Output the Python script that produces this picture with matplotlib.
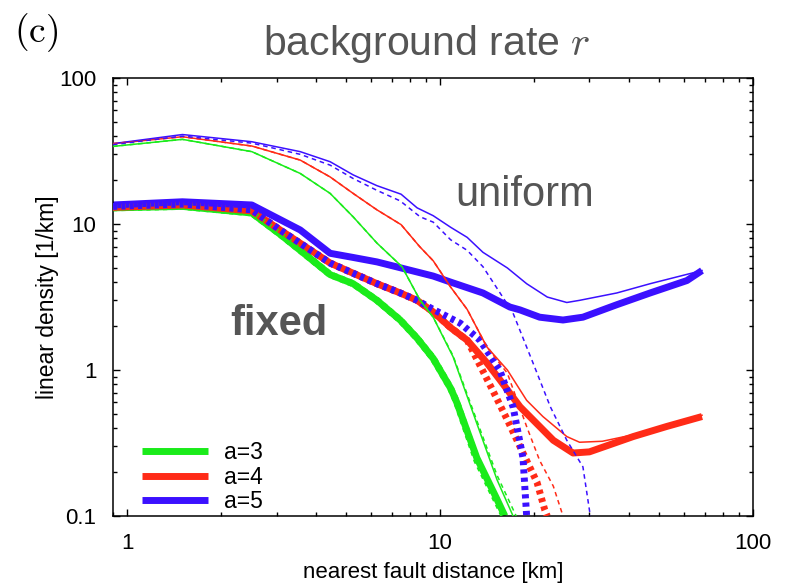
import matplotlib
matplotlib.use("Agg")
import matplotlib.pyplot as plt
from matplotlib.ticker import LogLocator, NullFormatter

plt.rcParams['font.family'] = ['Liberation Sans', 'DejaVu Sans']

# ---------------- data ----------------
labels = ["a=3", "a=4", "a=5"]
colors = ["#1aeb1a", "#ff2b17", "#3b10ff"]

# uniform (thin solid)
uni3_x = [0.9, 1.5, 2.5, 3.57, 4.45, 5.27, 6.28, 7.55, 8.63, 9.5, 11.0, 13.1, 15.2, 17.1]
uni3_y = [34, 38, 31.3, 22.2, 16.2, 11.2, 7.4, 5.1, 3.0, 2.3, 1.23, 0.43, 0.177, 0.1]
uni4_x = [0.9, 1.5, 2.5, 3.57, 4.45, 5.27, 6.28, 7.5, 8.6, 9.5, 10.8, 12.2, 14.1, 16.4, 18.9,
          21.3, 25.4, 27.9, 33, 41.4, 52.9, 68.7]
uni4_y = [35.5, 39.6, 34.2, 27.4, 21, 16.2, 12.5, 9.9, 7.0, 5.6, 3.7, 2.6, 1.44, 1.0, 0.62,
          0.48, 0.35, 0.32, 0.325, 0.36, 0.41, 0.49]
uni5_x = [0.9, 1.5, 2.5, 3.57, 4.45, 5.27, 6.28, 7.5, 8.44, 9.5, 10.8, 12.2, 13.7, 16.4, 18.9,
          22, 25.4, 27.9, 36.7, 46.9, 68.7]
uni5_y = [35.5, 41, 36.6, 31.3, 26.7, 21.7, 18.3, 16, 12.9, 11.4, 9.5, 8.1, 6.4, 5.0, 3.9,
          3.16, 2.9, 3.0, 3.37, 3.9, 4.8]

# uniform variant (thin dashed)
unid3_x = [0.9, 1.5, 2.5, 3.57, 4.45, 5.27, 6.28, 7.55, 8.63, 9.5, 11.0, 13.1, 15.2, 17.5]
unid3_y = [34, 38, 31.3, 22.2, 16.2, 11.2, 7.4, 5.1, 3.0, 2.3, 1.25, 0.45, 0.19, 0.1]
unid4_x = [0.9, 1.5, 2.5, 3.57, 4.45, 5.27, 6.28, 7.5, 8.6, 9.5, 10.8, 12.2, 14.1, 16.4, 18.9,
           20.8, 23, 24.7]
unid4_y = [35.5, 39.6, 34.2, 27.4, 21, 16.2, 12.5, 9.9, 7.0, 5.6, 3.7, 2.6, 1.44, 0.95, 0.41,
           0.24, 0.16, 0.1]
unid5_x = [0.9, 1.5, 2.5, 3.57, 4.45, 5.27, 6.28, 7.45, 8.63, 9.5, 10.8, 12.2, 13.7, 15.5, 17.1,
           19.8, 22.5, 25.4, 28.6, 30.2]
unid5_y = [35.0, 40.0, 35.8, 30.0, 25.3, 20.5, 17.0, 14.4, 11.2, 10.3, 7.8, 6.6, 5.1, 3.4, 2.45,
           1.12, 0.56, 0.33, 0.217, 0.1]

# fixed (thick solid)
fix3_x = [0.9, 1.5, 2.5, 3.08, 3.57, 4.45, 5.27, 6.28, 7.45, 8.44, 9.5, 10.8, 11.3, 13.1, 15.2, 16.1]
fix3_y = [12.9, 13.2, 11.9, 8.5, 6.6, 4.5, 3.9, 3.0, 2.2, 1.65, 1.2, 0.75, 0.6, 0.25, 0.13, 0.1]
fix4_x = [0.9, 1.5, 2.5, 3.08, 4.45, 5.27, 6.28, 7.45, 8.44, 9.5, 10.8, 12.2, 14.1, 15.5, 18.0,
          20.8, 23, 26.6, 30, 41.4, 52.9, 68.7]
fix4_y = [13.0, 13.5, 12.3, 9.1, 5.4, 4.6, 3.9, 3.37, 3.0, 2.5, 1.95, 1.6, 1.12, 0.86, 0.56,
          0.41, 0.33, 0.27, 0.275, 0.35, 0.41, 0.48]
fix5_x = [0.9, 1.5, 2.5, 3.57, 4.45, 5.27, 6.28, 7.5, 9.5, 10.8, 13.7, 16.7, 18, 20.8, 24.7,
          28.6, 36.7, 46.9, 61.5, 68.7]
fix5_y = [13.5, 14.2, 13.5, 9.1, 6.3, 5.9, 5.5, 5.0, 4.4, 4.0, 3.37, 2.7, 2.58, 2.3, 2.2,
          2.3, 2.8, 3.37, 4.1, 4.8]

# fixed variant (thick dotted)
fixd3_x = [0.9, 1.5, 2.5, 3.08, 3.57, 4.45, 5.27, 6.28, 7.45, 8.44, 9.5, 10.8, 11.3, 13.1, 15.2, 16.0]
fixd3_y = [12.9, 13.2, 11.9, 8.5, 6.6, 4.5, 3.9, 3.0, 2.2, 1.65, 1.2, 0.75, 0.6, 0.24, 0.125, 0.1]
fixd4_x = [0.9, 1.5, 2.5, 3.08, 4.45, 5.27, 6.28, 7.45, 8.44, 9.5, 10.8, 12.2, 14.7, 16.4,
           18.4, 20.4, 21.6, 22.0]
fixd4_y = [13.0, 13.5, 12.3, 9.1, 5.4, 4.6, 3.9, 3.37, 3.0, 2.5, 1.95, 1.6, 0.73, 0.455,
           0.27, 0.17, 0.11, 0.1]
fixd5_x = [0.9, 1.5, 2.5, 3.08, 4.45, 5.27, 6.28, 7.45, 8.44, 9.5, 11.6, 13.4, 15.5, 17.1,
           18.4, 18.9]
fixd5_y = [13.2, 13.7, 12.5, 9.1, 5.4, 4.6, 3.9, 3.37, 3.0, 2.6, 2.09, 1.6, 1.0, 0.56,
           0.25, 0.1]

x_ticks = [1, 10, 100]
x_ticklabels = ["1", "10", "100"]
y_ticks = [0.1, 1, 10, 100]
y_ticklabels = ["0.1", "1", "10", "100"]

# ---------------- figure ----------------
fig = plt.figure(figsize=(7.88, 5.88), dpi=100)
ax = fig.add_axes([113 / 788, 1 - 516 / 588, 640 / 788, 438 / 588])
ax.set_xscale("log")
ax.set_yscale("log")
ax.set_xlim(0.9, 100)
ax.set_ylim(0.1, 100)

THICK = 5.0
THIN = 1.1

fixed = [(fix3_x, fix3_y), (fix4_x, fix4_y), (fix5_x, fix5_y)]
fixed_d = [(fixd3_x, fixd3_y), (fixd4_x, fixd4_y), (fixd5_x, fixd5_y)]
uni = [(uni3_x, uni3_y), (uni4_x, uni4_y), (uni5_x, uni5_y)]
uni_d = [(unid3_x, unid3_y), (unid4_x, unid4_y), (unid5_x, unid5_y)]

for (x, y), c, lab in zip(fixed, colors, labels):
    ax.plot(x, y, color=c, lw=THICK, solid_capstyle="butt", label=lab, zorder=2)
for (x, y), c in zip(fixed_d, colors):
    ax.plot(x, y, color=c, lw=THICK, dashes=(0.6, 0.6), dash_capstyle="butt", zorder=3)
for (x, y), c in zip(uni, colors):
    ax.plot(x, y, color=c, lw=THIN, zorder=4)
for (x, y), c in zip(uni_d, colors):
    ax.plot(x, y, color=c, lw=THIN, dashes=(3, 2.5), zorder=4)

ax.set_xticks(x_ticks)
ax.set_xticklabels(x_ticklabels)
ax.set_yticks(y_ticks)
ax.set_yticklabels(y_ticklabels)
ax.xaxis.set_minor_locator(LogLocator(base=10, subs=range(2, 10)))
ax.yaxis.set_minor_locator(LogLocator(base=10, subs=range(2, 10)))
ax.xaxis.set_minor_formatter(NullFormatter())
ax.yaxis.set_minor_formatter(NullFormatter())
ax.tick_params(which="both", direction="in", top=True, right=True, labelsize=16, width=1.0)
ax.tick_params(which="major", length=5, pad=12)
ax.tick_params(which="minor", length=3)
for s in ax.spines.values():
    s.set_linewidth(1.1)

ax.set_xlabel("nearest fault distance [km]", fontsize=16, labelpad=6)
ax.set_ylabel("linear density [1/km]", fontsize=16.5, labelpad=0)

leg = ax.legend(loc="lower left", bbox_to_anchor=(0.045, 0.006), frameon=False, fontsize=16.5,
                handlelength=2.9, handletextpad=0.7, labelspacing=0.08, borderpad=0,
                borderaxespad=0)

fig.text(263 / 788, 1 - 55 / 588, r"background rate $r$", fontsize=29.5, color="#555555",
         ha="left", va="baseline", math_fontfamily="cm")
fig.text(14 / 788, 1 - 11 / 588, r"$(\mathrm{c})$", fontsize=27, color="black",
         ha="left", va="top", math_fontfamily="cm")
fig.text(455 / 788, 1 - 206 / 588, "uniform", fontsize=30, color="#555555",
         ha="left", va="baseline")
fig.text(230 / 788, 1 - 335 / 588, "fixed", fontsize=30, color="#555555", fontweight="bold",
         ha="left", va="baseline")

fig.savefig("out.png", dpi=100)
